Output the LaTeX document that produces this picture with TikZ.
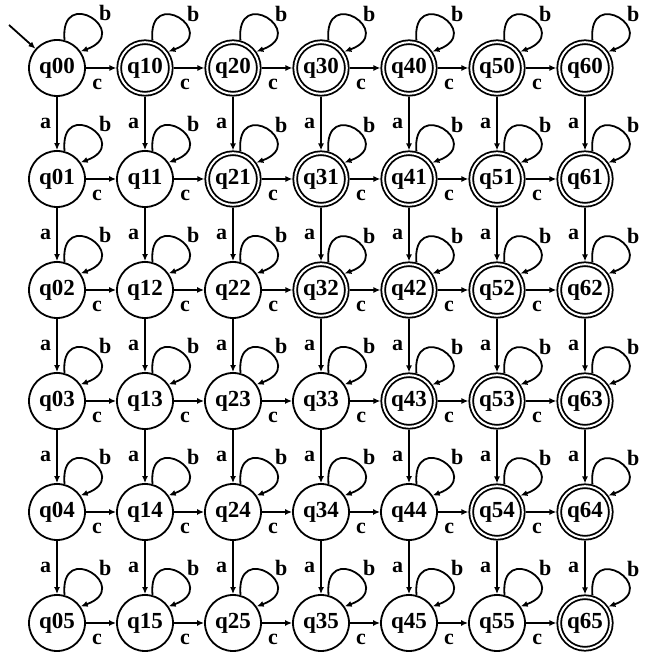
\documentclass[tikz,border=0pt]{standalone}
\usepackage{fontspec}
\setmainfont{Liberation Serif}
\usetikzlibrary{arrows.meta,positioning,calc}

\begin{document}
\begin{tikzpicture}[x=1pt, y=1pt, line width=1.8pt,
  font=\fontsize{23}{25}\selectfont\bfseries,
  >={Latex[length=7pt, width=6pt]},
  st/.style={circle, draw, minimum size=56pt, inner sep=0pt},
  acc/.style={st, double, double distance=2pt, minimum size=51.6pt, outer sep=2.8pt},
  lab/.style={inner sep=0pt, font=\fontsize{22}{24}\selectfont\bfseries}]
\useasboundingbox (0,0) rectangle (646,652);
% states: q<i><j>, accepting when i > j
\foreach \i in {0,...,6} {
  \foreach \j in {0,...,5} {
    \ifnum\i>\j \def\kind{acc}\else\def\kind{st}\fi
    \node[\kind] (q\i\j) at (57+88*\i, 584-111*\j) {q\i\j};
  }
}
% start arrow
\coordinate (init) at (9,627);
\draw[->] (init) -- (q00);
% b loops
\foreach \i in {0,...,6} {
  \foreach \j in {0,...,5} {
    \draw[->] (q\i\j.75) to[out=95, in=20, distance=56pt]
      node[lab, pos=0.6, anchor=south west, xshift=2pt, yshift=1pt] {b} (q\i\j.35);
  }
}
% c moves
\foreach \i [count=\n from 1] in {0,...,5} {
  \foreach \j in {0,...,5} {
    \draw[->] (q\i\j) -- node[lab, pos=0.37, below=10pt] {c} (q\n\j);
  }
}
% a moves
\foreach \j [count=\n from 1] in {0,...,4} {
  \foreach \i in {0,...,6} {
    \draw[->] (q\i\j) -- node[lab, left=5pt] {a} (q\i\n);
  }
}
\end{tikzpicture}
\end{document}
